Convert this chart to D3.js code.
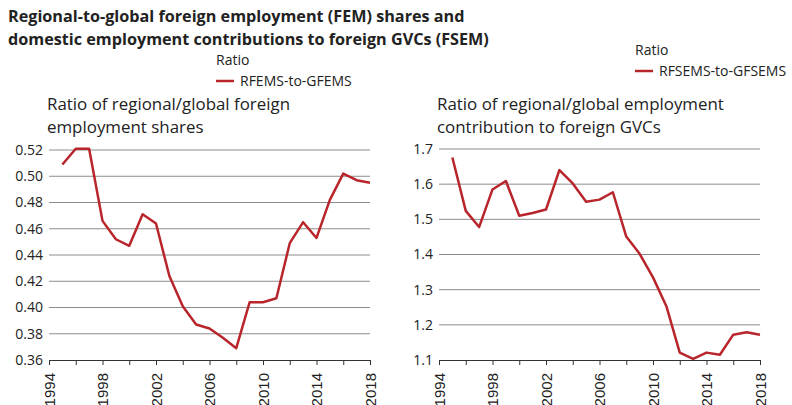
<!DOCTYPE html>
<html><head><meta charset="utf-8">
<script src="https://cdn.jsdelivr.net/npm/d3@7"></script>
<style>body{margin:0;background:#fff}svg{display:block}text{font-family:"Open Sans","Noto Sans",sans-serif;fill:#222}</style>
</head><body><svg id="c" width="792" height="405"></svg>
<script>
const years = d3.range(1995, 2019);
const rfems = [0.509,0.521,0.521,0.466,0.452,0.447,0.471,0.464,0.424,0.401,0.387,0.384,0.377,0.369,0.404,0.404,0.407,0.449,0.465,0.453,0.482,0.502,0.497,0.495];
const rfsems = [1.676,1.524,1.478,1.585,1.609,1.510,1.518,1.528,1.640,1.602,1.550,1.556,1.577,1.451,1.402,1.335,1.253,1.121,1.103,1.121,1.115,1.172,1.179,1.172];
const leftTicks = [0.36,0.38,0.40,0.42,0.44,0.46,0.48,0.50,0.52];
const rightTicks = [1.1,1.2,1.3,1.4,1.5,1.6,1.7];
const xTickYears = d3.range(1994, 2019, 2);
const xLabelYears = d3.range(1994, 2019, 4);
const titleLines = ["Regional-to-global foreign employment (FEM) shares and","domestic employment contributions to foreign GVCs (FSEM)"];
const panels = [
  {x0:49,x1:370,yTop:150,yBot:360,dom:[0.36,0.52],ticks:leftTicks,fmt:d3.format(".2f"),data:rfems,
   sub:["Ratio of regional/global foreign","employment shares"],subX:47,
   legTitle:"Ratio",legName:"RFEMS-to-GFEMS",legX:216,legY:65},
  {x0:439,x1:760,yTop:149,yBot:360,dom:[1.1,1.7],ticks:rightTicks,fmt:d3.format(".1f"),data:rfsems,
   sub:["Ratio of regional/global employment","contribution to foreign GVCs"],subX:437,
   legTitle:"Ratio",legName:"RFSEMS-to-GFSEMS",legX:635,legY:55}
];
const svg = d3.select("#c");
const red = "#b8252b";
svg.selectAll("text.title").data(titleLines).join("text").attr("class","title")
  .attr("x",8).attr("y",(d,i)=>22+i*23).attr("font-size",16.2).attr("font-weight","bold").text(d=>d);

panels.forEach(p=>{
  const x = d3.scaleLinear().domain([1994,2018]).range([p.x0,p.x1]);
  const y = d3.scaleLinear().domain(p.dom).range([p.yBot,p.yTop]);
  const g = svg.append("g");
  // legend
  g.append("text").attr("x",p.legX).attr("y",p.legY).attr("font-size",14).text(p.legTitle);
  g.append("line").attr("x1",p.legX).attr("x2",p.legX+18).attr("y1",p.legY+16).attr("y2",p.legY+16)
    .attr("stroke",red).attr("stroke-width",2.5);
  g.append("text").attr("x",p.legX+24).attr("y",p.legY+21).attr("font-size",14).text(p.legName);
  // subtitle
  g.selectAll("text.sub").data(p.sub).join("text").attr("class","sub")
    .attr("x",p.subX).attr("y",(d,i)=>110+i*23).attr("font-size",16.9).text(d=>d);
  // grid
  g.selectAll("line.grid").data(p.ticks.slice(1)).join("line").attr("class","grid")
    .attr("x1",p.x0).attr("x2",p.x1).attr("y1",d=>y(d)).attr("y2",d=>y(d))
    .attr("stroke","#8c8c8c").attr("stroke-width",1);
  // y axis labels
  const ya = g.append("g").attr("transform",`translate(${p.x0},0)`)
    .call(d3.axisLeft(y).tickValues(p.ticks).tickFormat(p.fmt).tickSize(0).tickPadding(6));
  ya.select(".domain").remove();
  ya.selectAll("text").attr("font-size",14).attr("fill","#222").style("font-family",'"Open Sans","Noto Sans",sans-serif');
  // x axis
  const xa = g.append("g").attr("transform",`translate(0,${p.yBot})`)
    .call(d3.axisBottom(x).tickValues(xTickYears).tickFormat(d=>xLabelYears.includes(d)?d:"").tickSize(5).tickSizeOuter(0));
  xa.select(".domain").attr("stroke","#333");
  xa.selectAll(".tick line").attr("stroke","#333");
  xa.selectAll("text").attr("font-size",15).attr("fill","#222").style("font-family",'"Liberation Sans",Arial,sans-serif')
    .attr("transform","rotate(-90)").attr("text-anchor","end").attr("dx",0).attr("dy","0.35em").attr("y",0).attr("x",-13);
  // line
  g.append("path").datum(p.data.map((v,i)=>[years[i],v]))
    .attr("fill","none").attr("stroke",red).attr("stroke-width",2.5).attr("stroke-linejoin","round")
    .attr("d",d3.line().x(d=>x(d[0])).y(d=>y(d[1])));
});
</script></body></html>
